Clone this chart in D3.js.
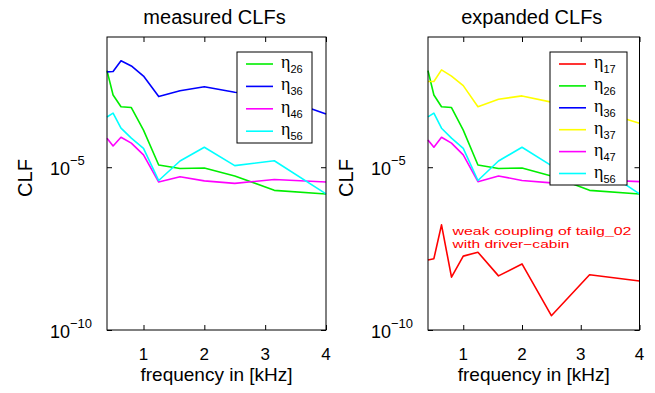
<!DOCTYPE html>
<html>
<head>
<meta charset="utf-8">
<script src="https://cdn.jsdelivr.net/npm/d3@7"></script>
<style>
body { margin: 0; background: #fff; }
text { font-family: "Liberation Sans", Arial, sans-serif; }
</style>
</head>
<body>
<script>
// third-octave band centres in kHz
var freq = [0.4, 0.5, 0.63, 0.8, 1, 1.25, 1.6, 2, 2.5, 3.15, 4];

// measured CLFs
var eta26 = [9.3e-3, 1.66e-3, 7.2e-4, 6.8e-4, 1.38e-4, 1.17e-5, 9.1e-6, 9.5e-6, 5.4e-6, 1.95e-6, 1.51e-6];
var eta36 = [8.5e-3, 8.7e-3, 1.86e-2, 1.29e-2, 6.3e-3, 1.48e-3, 2.24e-3, 2.95e-3, 2.0e-3, 1.58e-3, 4.3e-4];
var eta46 = [7.8e-5, 4.5e-5, 8.3e-5, 5.5e-5, 2.4e-5, 3.5e-6, 5.1e-6, 3.8e-6, 3.2e-6, 4.2e-6, 3.5e-6];
var eta56 = [3.5e-4, 4.6e-4, 1.58e-4, 7.8e-5, 3.8e-5, 3.9e-6, 1.55e-5, 4.1e-5, 1.12e-5, 1.58e-5, 1.51e-6];

// expanded CLFs
var eta17 = [1.41e-8, 1.55e-8, 1.7e-7, 4.2e-9, 1.86e-8, 2.45e-8, 4.6e-9, 1.07e-8, 2.75e-10, 5.0e-9, 3.2e-9];
var eta36x = [];
var eta37 = [4.3e-3, 4.3e-3, 9.8e-3, 6.3e-3, 3.2e-3, 7.2e-4, 1.23e-3, 1.55e-3, 1.0e-3, 6.6e-4, 2.24e-4];
var eta47 = [6.9e-5, 4.1e-5, 8.3e-5, 5.5e-5, 2.4e-5, 3.6e-6, 5.4e-6, 3.9e-6, 3.3e-6, 4.2e-6, 3.6e-6];

var xTicks = [1, 2, 3, 4];
var yTicks = [1e-10, 1e-5];
var yTickExp = ["\u221210", "\u22125"];

var w = 655, h = 393;
var svg = d3.select("body").append("svg").attr("width", w).attr("height", h);

function panel(opt) {
    var x = d3.scaleLinear().domain([0.4, 4]).range([opt.left, opt.right]);
    var y = d3.scaleLog().domain([1e-10, 1e-1]).range([330, 37]);
    var g = svg.append("g");

    // lines
    var line = d3.line()
        .x(function(d, i) { return x(freq[i]); })
        .y(function(d) { return y(d); });
    opt.series.forEach(function(s) {
        if (!s.values.length) return;
        g.append("path")
            .attr("d", line(s.values))
            .attr("fill", "none")
            .attr("stroke", s.color)
            .attr("stroke-width", 1.6)
            .attr("stroke-linejoin", "round");
    });

    // axes with inward ticks, top/bottom and left/right
    g.append("g").attr("transform", "translate(0,330)")
        .call(d3.axisBottom(x).tickValues(xTicks).tickSize(-5).tickFormat(""));
    g.append("g").attr("transform", "translate(0,37)")
        .call(d3.axisTop(x).tickValues(xTicks).tickSize(-5).tickFormat(""));
    g.append("g").attr("transform", "translate(" + opt.left + ",0)")
        .call(d3.axisLeft(y).tickValues(yTicks).tickSize(-5).tickFormat(""));
    g.append("g").attr("transform", "translate(" + opt.right + ",0)")
        .call(d3.axisRight(y).tickValues(yTicks).tickSize(-5).tickFormat(""));
    g.selectAll(".domain").remove();
    g.selectAll(".tick line").attr("stroke", "#000");
    g.selectAll(".tick text").remove();

    g.append("rect")
        .attr("x", opt.left).attr("y", 37)
        .attr("width", opt.right - opt.left).attr("height", 293)
        .attr("fill", "none").attr("stroke", "#000").attr("stroke-width", 1);

    // tick labels
    g.selectAll(".xl").data(xTicks).enter().append("text")
        .attr("x", function(d) { return x(d); })
        .attr("y", 360)
        .attr("text-anchor", "middle")
        .attr("font-size", 17)
        .text(function(d) { return d; });

    var yl = g.selectAll(".yl").data(yTicks).enter().append("text")
        .attr("x", opt.left - 57)
        .attr("y", function(d) { return y(d) + 8; })
        .attr("font-size", 18);
    yl.append("tspan").text("10");
    yl.append("tspan").attr("dy", -10).attr("font-size", 13)
        .text(function(d, i) { return yTickExp[i]; });

    // title and axis labels
    var cx = (opt.left + opt.right) / 2;
    g.append("text").attr("x", cx - 2).attr("y", 24)
        .attr("text-anchor", "middle").attr("font-size", 20)
        .text(opt.title);
    g.append("text").attr("x", cx).attr("y", 381)
        .attr("text-anchor", "middle").attr("font-size", 19)
        .text("frequency in [kHz]");
    g.append("text")
        .attr("transform", "translate(" + (opt.left - 75) + ",178) rotate(-90)")
        .attr("text-anchor", "middle").attr("font-size", 20)
        .text("CLF");

    // legend
    var lg = g.append("g").attr("transform", "translate(" + opt.legX + ",52)");
    lg.append("rect")
        .attr("width", opt.legW).attr("height", opt.legH)
        .attr("fill", "#fff").attr("stroke", "#000").attr("stroke-width", 1);
    var rows = lg.selectAll(".row").data(opt.series).enter().append("g")
        .attr("transform", function(d, i) { return "translate(0," + (12 + i * opt.legStep) + ")"; });
    rows.append("line")
        .attr("x1", 9).attr("x2", 36)
        .attr("stroke", function(d) { return d.color; })
        .attr("stroke-width", 1.6);
    var lt = rows.append("text").attr("x", 44).attr("y", 4);
    lt.append("tspan").attr("font-family", "'Liberation Serif', serif").attr("font-size", 18).text("\u03b7");
    lt.append("tspan").attr("dy", 5).attr("font-size", 11).text(function(d) { return d.sub; });

    return { g: g, x: x, y: y };
}

panel({
    left: 107, right: 326, title: "measured CLFs",
    legX: 237, legW: 75, legH: 91, legStep: 22.4,
    series: [
        { sub: "26", color: "#00ee00", values: eta26 },
        { sub: "36", color: "#0000ff", values: eta36 },
        { sub: "46", color: "#ff00ff", values: eta46 },
        { sub: "56", color: "#00ffff", values: eta56 }
    ]
});

var right = panel({
    left: 428, right: 639.5, title: "expanded CLFs",
    legX: 550, legW: 77, legH: 133, legStep: 21.9,
    series: [
        { sub: "17", color: "#ff0000", values: eta17 },
        { sub: "26", color: "#00ee00", values: eta26 },
        { sub: "36", color: "#0000ff", values: eta36x },
        { sub: "37", color: "#ffff00", values: eta37 },
        { sub: "47", color: "#ff00ff", values: eta47 },
        { sub: "56", color: "#00ffff", values: eta56 }
    ]
});

// annotation next to the eta17 curve
var note1 = right.g.append("text").attr("fill", "#ff0000").attr("font-size", 11.5)
    .attr("x", 452.5).attr("y", 234.5)
    .attr("textLength", 179).attr("lengthAdjust", "spacingAndGlyphs")
    .text("weak coupling of tailg_02");
var note2 = right.g.append("text").attr("fill", "#ff0000").attr("font-size", 11.5)
    .attr("x", 452.5).attr("y", 247.5)
    .attr("textLength", 117).attr("lengthAdjust", "spacingAndGlyphs")
    .text("with driver\u2212cabin");
</script>
</body>
</html>
